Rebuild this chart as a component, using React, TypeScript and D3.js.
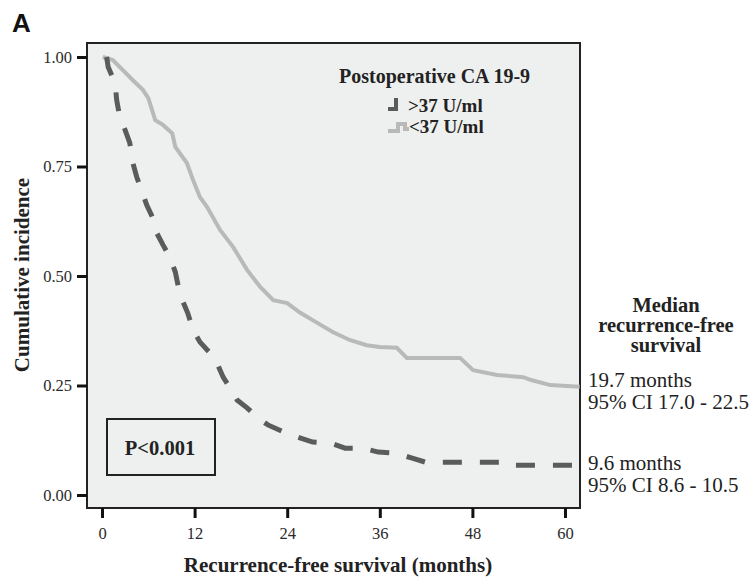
import React, { useEffect, useRef } from 'react';
import * as d3 from 'd3';

// months / survival proportion
const lowMonths = [0.1, 1.4, 2.7, 4.0, 5.3, 6.0, 6.9, 7.9, 9.1, 9.5, 11.0, 11.8, 12.7, 13.6, 15.3, 17.0, 18.8, 20.5, 22.2, 24.0, 25.7, 27.9, 29.9, 32.1, 34.3, 36.0, 38.2, 39.5, 46.4, 48.1, 51.2, 54.6, 55.5, 58.1, 61.9];
const lowValues = [1.0, 0.993, 0.97, 0.947, 0.925, 0.906, 0.856, 0.845, 0.826, 0.795, 0.758, 0.719, 0.68, 0.658, 0.605, 0.566, 0.514, 0.475, 0.445, 0.438, 0.416, 0.393, 0.372, 0.354, 0.342, 0.338, 0.336, 0.313, 0.313, 0.285, 0.274, 0.269, 0.263, 0.251, 0.247];

const highMonths = [0.6, 0.8, 1.7, 1.9, 2.3, 3.0, 3.6, 4.0, 4.5, 5.2, 5.8, 6.6, 7.1, 7.9, 8.8, 9.5, 9.9, 10.5, 11.1, 11.8, 12.7, 14.0, 14.9, 15.7, 16.6, 17.5, 18.8, 20.2, 21.5, 23.5, 25.4, 27.3, 29.5, 31.5, 33.7, 35.8, 38.0, 40.2, 41.9, 52.0, 52.6, 61.9];
const highValues = [1.0, 0.977, 0.941, 0.902, 0.863, 0.833, 0.804, 0.758, 0.726, 0.692, 0.662, 0.632, 0.598, 0.571, 0.543, 0.509, 0.475, 0.441, 0.416, 0.377, 0.349, 0.324, 0.301, 0.269, 0.244, 0.217, 0.199, 0.176, 0.16, 0.144, 0.132, 0.121, 0.119, 0.107, 0.107, 0.098, 0.096, 0.084, 0.075, 0.075, 0.068, 0.068];

const xTicks = [0, 12, 24, 36, 48, 60];
const yTicks = [0, 0.25, 0.5, 0.75, 1.0];

const legendTitle = 'Postoperative CA 19-9';
const legendLabels = ['>37 U/ml', '<37 U/ml'];
const medianTitle = ['Median', 'recurrence-free', 'survival'];
const medianLow = ['19.7 months', '95% CI 17.0 - 22.5'];
const medianHigh = ['9.6 months', '95% CI 8.6 - 10.5'];
const pText = 'P<0.001';

const serif = '"Liberation Serif", "Times New Roman", serif';
const darkCol = '#5b5b5b';
const lightCol = '#b9b9b9';
const textCol = '#222';

export default function App() {
  const svgRef = useRef<SVGSVGElement>(null);

  useEffect(() => {
    const width = 752;
    const height = 577;
    const frame = { left: 87, top: 43, right: 580, bottom: 508 };

    const svg = d3.select(svgRef.current).attr('width', width).attr('height', height);
    svg.selectAll('*').remove();

    const xScale = d3.scaleLinear().domain([0, 60]).range([102, 565]);
    const yScale = d3.scaleLinear().domain([0, 1]).range([495, 57]);

    // panel
    svg
      .append('rect')
      .attr('x', frame.left)
      .attr('y', frame.top)
      .attr('width', frame.right - frame.left)
      .attr('height', frame.bottom - frame.top)
      .attr('fill', '#eef0ef')
      .attr('stroke', '#222')
      .attr('stroke-width', 2);

    // curves
    const line = d3
      .line<[number, number]>()
      .x((d) => xScale(d[0]))
      .y((d) => yScale(d[1]));

    const low = lowMonths.map((m, i) => [m, lowValues[i]] as [number, number]);
    const high = highMonths.map((m, i) => [m, highValues[i]] as [number, number]);

    svg
      .append('path')
      .attr('d', line(low))
      .attr('fill', 'none')
      .attr('stroke', lightCol)
      .attr('stroke-width', 4);

    svg
      .append('path')
      .attr('d', line(high))
      .attr('fill', 'none')
      .attr('stroke', darkCol)
      .attr('stroke-width', 5)
      .attr('stroke-dasharray', '19 18');

    // axes
    const yAxis = svg
      .append('g')
      .attr('transform', `translate(${frame.left},0)`)
      .call(d3.axisLeft(yScale).tickValues(yTicks).tickSize(10).tickPadding(5).tickFormat(d3.format('.2f')));
    yAxis.select('.domain').remove();
    yAxis.selectAll('line').attr('stroke', '#111').attr('stroke-width', 3);
    yAxis.selectAll('text').attr('font-family', serif).attr('font-size', 16.5).attr('fill', '#2a2a2a');

    const xAxis = svg
      .append('g')
      .attr('transform', `translate(0,${frame.bottom})`)
      .call(d3.axisBottom(xScale).tickValues(xTicks).tickSize(10).tickPadding(9));
    xAxis.select('.domain').remove();
    xAxis.selectAll('line').attr('stroke', '#111').attr('stroke-width', 3);
    xAxis.selectAll('text').attr('font-family', serif).attr('font-size', 16.5).attr('fill', '#2a2a2a');

    svg
      .append('text')
      .attr('x', 338)
      .attr('y', 572)
      .attr('text-anchor', 'middle')
      .attr('font-family', serif)
      .attr('font-weight', 'bold')
      .attr('font-size', 21)
      .attr('fill', textCol)
      .text('Recurrence-free survival (months)');

    svg
      .append('text')
      .attr('transform', 'translate(29,275) rotate(-90)')
      .attr('text-anchor', 'middle')
      .attr('font-family', serif)
      .attr('font-weight', 'bold')
      .attr('font-size', 21)
      .attr('fill', textCol)
      .text('Cumulative incidence');

    svg
      .append('text')
      .attr('x', 12)
      .attr('y', 32)
      .attr('font-family', '"Liberation Sans", Arial, sans-serif')
      .attr('font-weight', 'bold')
      .attr('font-size', 26)
      .attr('fill', '#111')
      .text('A');

    // legend
    const legend = svg.append('g').attr('font-family', serif).attr('font-weight', 'bold').attr('fill', textCol);
    legend.append('text').attr('x', 339).attr('y', 83).attr('font-size', 20).text(legendTitle);
    legend.append('text').attr('x', 408).attr('y', 112).attr('font-size', 19).text(legendLabels[0]);
    legend.append('text').attr('x', 409).attr('y', 133).attr('font-size', 19).text(legendLabels[1]);
    svg
      .append('path')
      .attr('d', 'M388,109 H396 V98')
      .attr('fill', 'none')
      .attr('stroke', darkCol)
      .attr('stroke-width', 4);
    svg
      .append('path')
      .attr('d', 'M388,131 H398 V124 H405 V129 H409')
      .attr('fill', 'none')
      .attr('stroke', lightCol)
      .attr('stroke-width', 4);

    // p-value box
    svg
      .append('rect')
      .attr('x', 107)
      .attr('y', 419)
      .attr('width', 108)
      .attr('height', 56)
      .attr('fill', 'none')
      .attr('stroke', '#222')
      .attr('stroke-width', 2);
    svg
      .append('text')
      .attr('x', 160)
      .attr('y', 455)
      .attr('text-anchor', 'middle')
      .attr('font-family', serif)
      .attr('font-weight', 'bold')
      .attr('font-size', 20.5)
      .attr('fill', textCol)
      .text(pText);

    // median annotation
    const med = svg.append('g').attr('font-family', serif).attr('font-size', 21).attr('fill', textCol);
    medianTitle.forEach((t, i) => {
      med
        .append('text')
        .attr('x', 666)
        .attr('y', 312 + i * 20)
        .attr('text-anchor', 'middle')
        .attr('font-weight', 'bold')
        .attr('font-size', 20.5)
        .text(t);
    });
    medianLow.forEach((t, i) => {
      med.append('text').attr('x', 588).attr('y', 387 + i * 22).text(t);
    });
    medianHigh.forEach((t, i) => {
      med.append('text').attr('x', 588).attr('y', 470 + i * 22).text(t);
    });
  }, []);

  return <svg ref={svgRef} style={{ position: 'absolute', left: 0, top: 0, background: '#fff' }} />;
}
